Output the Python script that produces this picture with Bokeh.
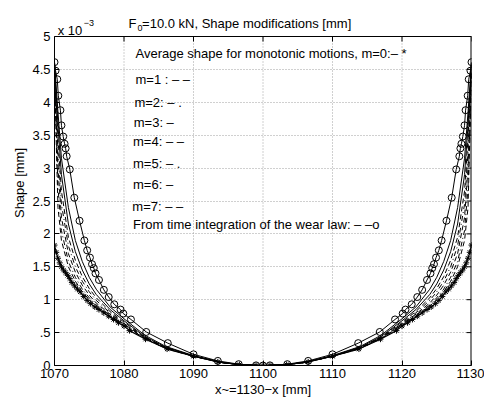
from bokeh.plotting import figure
from bokeh.models import FixedTicker, Range1d
from bokeh.core.properties import value
from bokeh.embed import file_html
from bokeh.resources import INLINE

FONT = "Liberation Sans"

# ---- data (shape values in units of 1e-3 mm), left half; right half is mirror about x=1100 ----
grid_x = [1070, 1070.5, 1071, 1072, 1073, 1074, 1075, 1076, 1078, 1080, 1083, 1086, 1090, 1094, 1097, 1100]
m1 = [4.40, 2.40, 1.90, 1.50, 1.28, 1.12, 1.00, 0.90, 0.75, 0.61, 0.41, 0.26, 0.140, 0.045, 0.010, 0]
m2 = [4.45, 2.70, 2.05, 1.58, 1.34, 1.16, 1.03, 0.92, 0.76, 0.62, 0.41, 0.26, 0.140, 0.045, 0.010, 0]
m3 = [4.58, 3.65, 2.90, 2.15, 1.73, 1.45, 1.24, 1.08, 0.85, 0.68, 0.44, 0.28, 0.145, 0.046, 0.010, 0]
m4 = [4.50, 3.00, 2.25, 1.70, 1.42, 1.22, 1.07, 0.95, 0.78, 0.63, 0.42, 0.27, 0.140, 0.045, 0.010, 0]
m5 = [4.53, 3.25, 2.45, 1.82, 1.50, 1.28, 1.12, 0.99, 0.80, 0.64, 0.42, 0.27, 0.140, 0.045, 0.010, 0]
m6 = [4.60, 3.85, 3.15, 2.40, 1.90, 1.58, 1.34, 1.16, 0.89, 0.71, 0.46, 0.29, 0.150, 0.047, 0.010, 0]
m7 = [4.56, 3.45, 2.65, 1.95, 1.60, 1.35, 1.17, 1.03, 0.82, 0.66, 0.43, 0.27, 0.145, 0.046, 0.010, 0]

mono_x = [1070, 1070.25, 1070.5, 1070.75, 1071, 1071.3, 1071.6, 1071.9, 1072.2, 1072.5, 1072.9,
          1073.3, 1073.7, 1074.2, 1074.7, 1075.2, 1075.8, 1076.4, 1077.1, 1077.8, 1078.5, 1079.2,
          1080, 1080.8, 1083.1, 1086.2, 1090, 1093.5, 1096.6, 1099, 1100]
mono_y = [1.83, 1.72, 1.63, 1.56, 1.50, 1.45, 1.41, 1.37, 1.32, 1.26, 1.21,
          1.16, 1.12, 1.05, 0.99, 0.94, 0.89, 0.85, 0.80, 0.75, 0.70, 0.65,
          0.60, 0.53, 0.40, 0.25, 0.14, 0.055, 0.013, 0.001, 0]

wear_x = [1070.0, 1070.15, 1070.4, 1070.55, 1070.85, 1071.0, 1071.25, 1071.45, 1071.6, 1071.75,
          1072.2, 1072.85, 1073.6, 1074.3, 1074.7, 1075.1, 1075.4, 1075.65, 1075.9, 1076.4,
          1077.1, 1077.8, 1078.6, 1079.5, 1079.9, 1081.0, 1083.2, 1086.3, 1090.0, 1093.5,
          1096.5, 1099.0, 1100.0]
wear_y = [4.61, 4.48, 4.35, 4.10, 3.88, 3.65, 3.48, 3.37, 3.30, 3.18,
          2.98, 2.55, 2.20, 1.90, 1.75, 1.64, 1.54, 1.48, 1.40, 1.30,
          1.15, 1.04, 0.93, 0.85, 0.79, 0.70, 0.51, 0.34, 0.17, 0.07,
          0.02, 0.002, 0.0]

x_ticks = [1070, 1080, 1090, 1100, 1110, 1120, 1130]
y_ticks = [0, 0.5, 1, 1.5, 2, 2.5, 3, 3.5, 4, 4.5, 5]
y_tick_labels = ["0", ".5", "1", "1.5", "2", "2.5", "3", "3.5", "4", "4.5", "5"]

legend_lines = ["Average shape for monotonic motions, m=0:\u2013 *",
                "m=1 : \u2013 \u2013", "m=2: \u2013 .", "m=3: \u2013", "m=4: \u2013 \u2013",
                "m=5: \u2013 .", "m=6: \u2013", "m=7: \u2013 \u2013",
                "From time integration of the wear law: \u2013 \u2013o"]
legend_x = [1081.65, 1081.65, 1081.5, 1081.4, 1081.3, 1081.3, 1081.3, 1081.2, 1081.3]
legend_y = [4.74, 4.35, 4.00, 3.70, 3.40, 3.07, 2.75, 2.42, 2.14]


def mirror(xs, ys):
    xx = list(xs) + [2200 - v for v in reversed(xs[:-1])]
    yy = list(ys) + list(reversed(ys[:-1]))
    return xx, yy


# ---- layout: frame extends to the top of the canvas so the title texts can sit inside it ----
W, H = 484, 402
LEFT, RIGHT, BOTTOM, TOP_PAD = 54, 13, 37, 36
frame_h = H - BOTTOM
frame_w = W - LEFT - RIGHT
x0, x1 = x_ticks[0], x_ticks[-1]
ymax = y_ticks[-1]
y_end = ymax * frame_h / (frame_h - TOP_PAD)
px_y = (frame_h - TOP_PAD) / ymax          # pixels per y unit
px_x = frame_w / (x1 - x0)                  # pixels per x unit

p = figure(width=W, height=H, output_backend="svg", toolbar_location=None,
           x_range=Range1d(x0, x1), y_range=Range1d(0, y_end), title=None,
           min_border_left=LEFT, min_border_right=RIGHT, min_border_top=0, min_border_bottom=BOTTOM)
p.background_fill_color = "white"
p.border_fill_color = "white"
p.outline_line_color = None

GRID = dict(line_color="#a0a0a0", line_dash="1 2", line_width=1)
# horizontal grid via Bokeh grid, vertical grid drawn only up to the top of the box
p.xgrid.visible = False
p.ygrid.ticker = FixedTicker(ticks=y_ticks)
p.ygrid.grid_line_color = GRID["line_color"]
p.ygrid.grid_line_dash = GRID["line_dash"]
p.ygrid.grid_line_width = 1
p.segment(x0=x_ticks[1:-1], y0=[0] * 5, x1=x_ticks[1:-1], y1=[ymax] * 5, **GRID)

styles = [(m1, "5 3"), (m2, "5 3 1 3"), (m3, "solid"), (m4, "5 3"),
          (m5, "5 3 1 3"), (m6, "solid"), (m7, "5 3")]
for ys, dash in styles:
    xx, yy = mirror(grid_x, ys)
    p.line(xx, yy, line_color="black", line_width=1, line_dash=dash)

mx, my = mirror(mono_x, mono_y)
p.line(mx, my, line_color="black", line_width=1.2)
p.scatter(mx, my, marker="asterisk", size=6, line_color="black", line_width=1)

wx, wy = mirror(wear_x, wear_y)
p.line(wx, wy, line_color="black", line_width=1)
p.scatter(wx, wy, marker="circle", size=7, line_color="black", fill_color=None, line_width=1)

p.text(x=legend_x, y=legend_y, text=legend_lines, text_font=value(FONT),
       text_font_size=value("13px"), text_baseline="middle", text_align="left", text_color="black")

# box: top line and right line, with inward ticks
TICK = 5
p.segment(x0=[x0], y0=[ymax], x1=[x1], y1=[ymax], line_color="black", line_width=1)
p.segment(x0=[x1], y0=[0], x1=[x1], y1=[ymax], line_color="black", line_width=2)
p.segment(x0=x_ticks, y0=[ymax] * len(x_ticks), x1=x_ticks,
          y1=[ymax - TICK / px_y] * len(x_ticks), line_color="black", line_width=1)
p.segment(x0=[x1] * len(y_ticks), y0=y_ticks, x1=[x1 - TICK / px_x] * len(y_ticks),
          y1=y_ticks, line_color="black", line_width=1)

# axes
for ax in (p.xaxis[0], p.yaxis[0]):
    ax.major_tick_in = TICK
    ax.major_tick_out = 0
    ax.minor_tick_line_color = None
    ax.axis_line_color = "black"
    ax.major_label_text_font = FONT
    ax.major_label_text_font_size = "13px"
    ax.major_label_text_color = "black"
    ax.axis_label_text_font = FONT
    ax.axis_label_text_font_size = "13px"
    ax.axis_label_text_font_style = "normal"
    ax.axis_label_text_color = "black"

p.xaxis.ticker = FixedTicker(ticks=x_ticks)
p.yaxis.ticker = FixedTicker(ticks=y_ticks)
p.yaxis.bounds = (0, ymax)
p.yaxis.major_label_overrides = {t: lab for t, lab in zip(y_ticks, y_tick_labels)}
p.xaxis.major_label_standoff = 3
p.yaxis.major_label_standoff = 4
p.xaxis.axis_label = "x~=1130\u2212x [mm]"
p.yaxis.axis_label = "Shape [mm]"
p.xaxis.axis_label_standoff = 1
p.yaxis.axis_label_standoff = 2

# title with subscript, and exponent multiplier (inside the extended frame)
top_texts = ["F", "0", "=10.0 kN, Shape modifications [mm]", "x 10", "\u22123"]
top_x = [1080.65, 1081.95, 1082.6, 1070.45, 1074.2]
top_y = [5.19, 5.125, 5.19, 5.09, 5.2]
top_size = ["13px", "9px", "13px", "13px", "9px"]
p.text(x=top_x, y=top_y, text=top_texts, text_font=value(FONT), text_font_size=top_size,
       text_baseline="alphabetic", text_align="left", text_color="black")

open("out.html", "w").write(file_html(p, INLINE))
